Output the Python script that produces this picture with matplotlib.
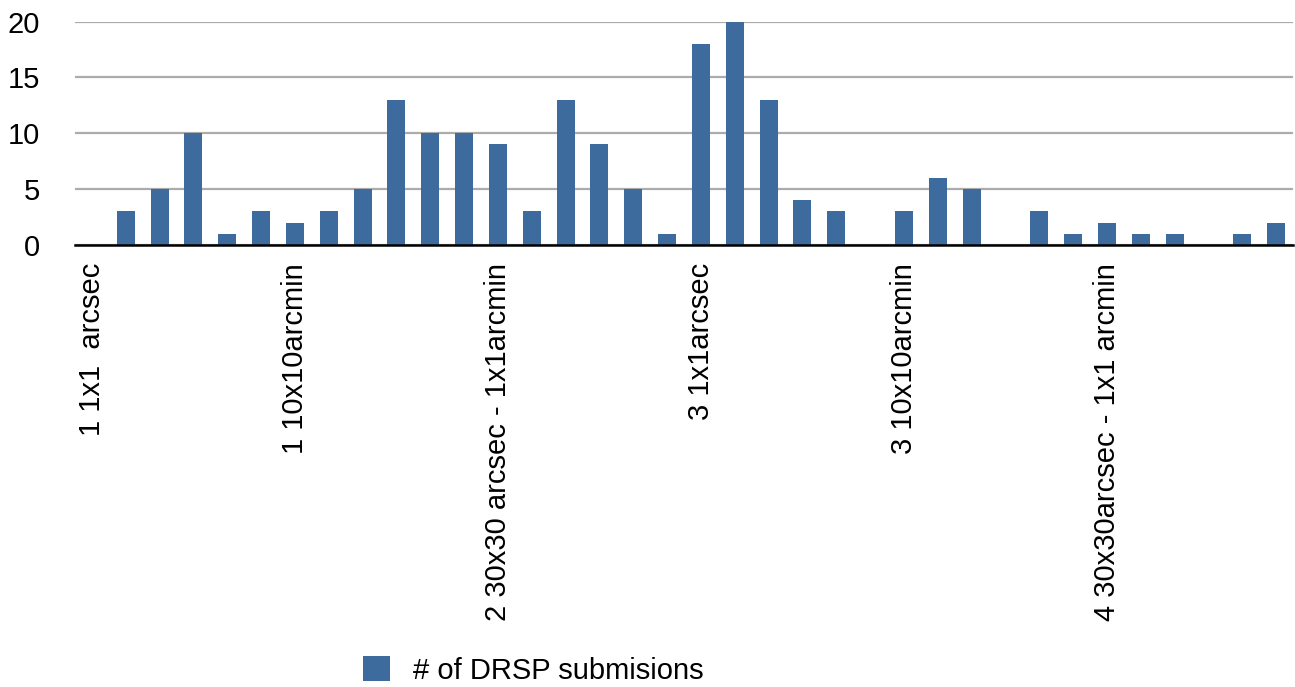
import matplotlib
matplotlib.use("Agg")
import matplotlib.pyplot as plt
import numpy as np

# DRSP submissions per category (36 categories, only every 6th labelled)
counts = [0, 3, 5, 10, 1, 3, 2, 3, 5, 13, 10, 10,
          9, 3, 13, 9, 5, 1, 18, 20, 13, 4, 3, 0,
          3, 6, 5, 0, 3, 1, 2, 1, 1, 0, 1, 2]
tick_labels = ["1 1x1  arcsec", "1 10x10arcmin", "2 30x30 arcsec - 1x1arcmin",
               "3 1x1arcsec", "3 10x10arcmin", "4 30x30arcsec - 1x1 arcmin"]
label_step = 6
y_ticks = [0, 5, 10, 15, 20]
series_name = "# of DRSP submisions"

plt.rcParams["font.family"] = ["Liberation Sans", "DejaVu Sans"]

fig = plt.figure(figsize=(12.95, 6.87), dpi=100)
ax = fig.add_axes([75 / 1295, 1 - 245 / 687, 1218 / 1295, (245 - 21.5) / 687])

x = np.arange(len(counts))
ax.bar(x, counts, width=0.53, color="#3d6b9e", zorder=3, label=series_name)

ax.set_xlim(-0.5, len(counts) - 0.5)
ax.set_ylim(0, 20)
ax.set_yticks(y_ticks)
ax.set_xticks(x[::label_step])
ax.set_xticklabels(tick_labels, rotation=90, va="top", ha="center")

ax.tick_params(axis="y", length=0, pad=25, labelsize=21)
ax.tick_params(axis="x", length=0, pad=13, labelsize=21)

ax.grid(True, axis="y", color="#ababab", linewidth=1.6, zorder=0)
ax.set_axisbelow(True)
for side in ["top", "right", "left"]:
    ax.spines[side].set_visible(False)
ax.spines["bottom"].set_color("black")
ax.spines["bottom"].set_linewidth(1.8)
ax.spines["bottom"].set_zorder(4)

fig.legend(loc="center left", bbox_to_anchor=(363 / 1295, 1 - 670.5 / 687),
           frameon=False, fontsize=21, handlelength=0.93, handleheight=0.93,
           handletextpad=0.8, borderpad=0, borderaxespad=0)

fig.savefig("out.png", dpi=100, facecolor="white")
